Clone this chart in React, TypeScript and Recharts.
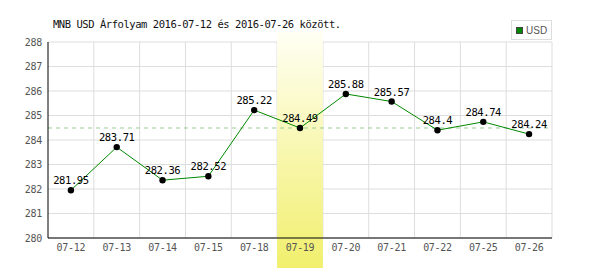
import {
  ComposedChart,
  Line,
  XAxis,
  YAxis,
  CartesianGrid,
  ReferenceArea,
  ReferenceLine,
  LabelList,
} from 'recharts';

const dates = ['07-12', '07-13', '07-14', '07-15', '07-18', '07-19', '07-20', '07-21', '07-22', '07-25', '07-26'];
const usdRates = [281.95, 283.71, 282.36, 282.52, 285.22, 284.49, 285.88, 285.57, 284.4, 284.74, 284.24];
const yTicks = [280, 281, 282, 283, 284, 285, 286, 287, 288];
const highlightDate = '07-19';
const highlightRate = 284.49;
const title = 'MNB USD Árfolyam 2016-07-12 és 2016-07-26 között.';

const data = dates.map((d, i) => ({ date: d, usd: usdRates[i] }));

const mono = '"DejaVu Sans Mono", "Liberation Mono", monospace';

function BandShape(props: any) {
  const { x, y, width, height } = props;
  return (
    <g>
      <defs>
        <linearGradient id="bandGradient" x1="0" y1="0" x2="0" y2="1">
          <stop offset="0%" stopColor="#fffff4" />
          <stop offset="100%" stopColor="#f1ef6c" />
        </linearGradient>
      </defs>
      <rect x={x} y={y - 10} width={width} height={height + 40} fill="url(#bandGradient)" />
    </g>
  );
}

export default function App() {
  const n = dates.length;
  return (
    <div style={{ position: 'absolute', left: 0, top: 0, width: 600, height: 270, background: '#fff' }}>
      <ComposedChart width={600} height={270} data={data} margin={{ top: 42, right: 48, left: 0, bottom: 0 }}>
        <CartesianGrid
          stroke="#dddddd"
          verticalCoordinatesGenerator={({ offset }: any) =>
            dates.map((_, i) => offset.left + ((i + 1) * offset.width) / n)
          }
        />
        <ReferenceLine y={highlightRate} stroke="#99cc99" strokeDasharray="4 4" />
        <ReferenceArea x1={highlightDate} x2={highlightDate} shape={BandShape} />
        <XAxis
          dataKey="date"
          scale="band"
          height={32}
          stroke="#000"
          tickLine={false}
          tickSize={4}
          tickMargin={2}
          tick={{ fill: '#555', fontFamily: mono, fontSize: 10, letterSpacing: -0.3 }}
        />
        <YAxis
          domain={[280, 288]}
          ticks={yTicks}
          width={48}
          stroke="#000"
          tickLine={false}
          tickSize={4}
          tickMargin={2}
          tick={{ fill: '#555', fontFamily: mono, fontSize: 10, letterSpacing: -0.3 }}
        />
        <Line
          dataKey="usd"
          stroke="#008800"
          strokeWidth={1}
          dot={{ r: 3.2, fill: '#000', stroke: 'none' }}
          activeDot={false}
          isAnimationActive={false}
        >
          <LabelList
            dataKey="usd"
            position="top"
            offset={6}
            fill="#000"
            fontFamily={mono}
            fontSize={10.5}
            letterSpacing={-0.4}
          />
        </Line>
      </ComposedChart>
      <div
        style={{
          position: 'absolute',
          left: 53,
          top: 18,
          fontFamily: mono,
          fontSize: 10.5,
          letterSpacing: -0.45,
          color: '#111',
          whiteSpace: 'nowrap',
        }}
      >
        {title}
      </div>
      <div
        style={{
          position: 'absolute',
          left: 511,
          top: 20,
          width: 39,
          height: 18,
          border: '1px solid #dddddd',
          background: '#fff',
          fontFamily: '"Liberation Sans", Arial, sans-serif',
          fontSize: 10,
          color: '#555',
          display: 'flex',
          alignItems: 'center',
        }}
      >
        <span
          style={{
            display: 'inline-block',
            width: 5,
            height: 5,
            marginLeft: 4,
            marginRight: 3,
            background: '#008800',
            border: '1px solid #444',
          }}
        />
        USD
      </div>
    </div>
  );
}
